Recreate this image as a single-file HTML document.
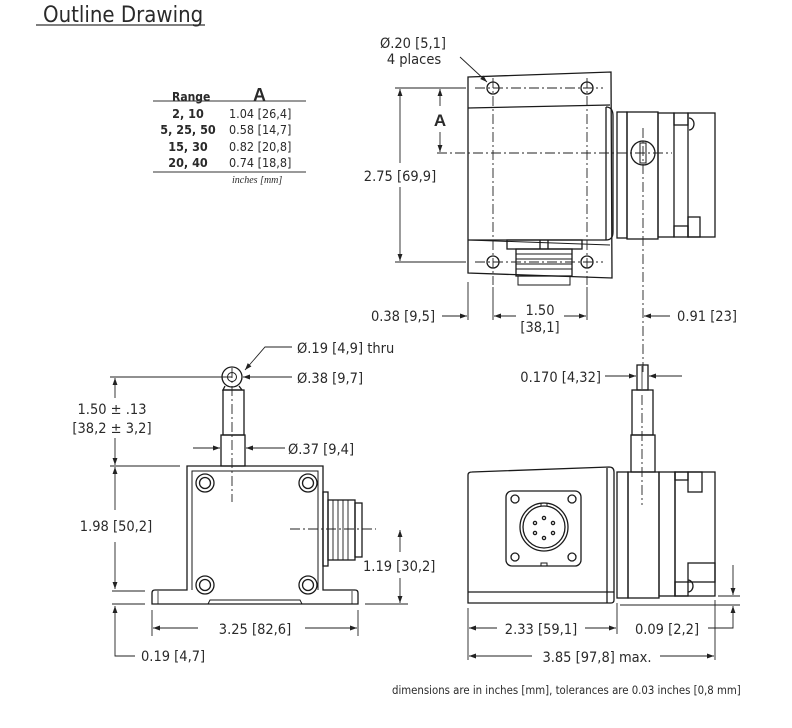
<!DOCTYPE html>
<html><head><meta charset="utf-8"><style>
html,body{margin:0;padding:0;background:#fff;}
svg{display:block;}
text{font-family:"DejaVu Sans Condensed","Liberation Sans Narrow","Liberation Sans",sans-serif;fill:#2a2a2a;font-size:14.5px;}
.b{font-weight:bold;}
</style></head><body>
<svg width="792" height="728" viewBox="0 0 792 728" xmlns="http://www.w3.org/2000/svg">
<defs>
<marker id="a" viewBox="0 0 10 10" refX="10" refY="5" markerWidth="9" markerHeight="7" orient="auto-start-reverse" markerUnits="userSpaceOnUse"><path d="M0,1.5 L10,5 L0,8.5 z" fill="#222"/></marker>
</defs>
<!-- title -->
<text x="43" y="22" style="font-size:22px">Outline Drawing</text>
<line x1="36" y1="25" x2="205" y2="25" stroke="#333" stroke-width="1.2"/>
<!-- table -->
<g>
<text x="172" y="101" class="b" style="font-size:12px">Range</text>
<text x="253" y="101" class="b" style="font-size:18px;font-family:'Liberation Sans',sans-serif">A</text>
<line x1="153" y1="101" x2="306" y2="101" stroke="#333" stroke-width="1"/>
<text x="188" y="118" class="b" text-anchor="middle" style="font-size:12.5px">2, 10</text>
<text x="188" y="134" class="b" text-anchor="middle" style="font-size:12.5px">5, 25, 50</text>
<text x="188" y="151" class="b" text-anchor="middle" style="font-size:12.5px">15, 30</text>
<text x="188" y="167" class="b" text-anchor="middle" style="font-size:12.5px">20, 40</text>
<text x="229" y="118" style="font-size:12.5px">1.04 [26,4]</text>
<text x="229" y="134" style="font-size:12.5px">0.58 [14,7]</text>
<text x="229" y="151" style="font-size:12.5px">0.82 [20,8]</text>
<text x="229" y="167" style="font-size:12.5px">0.74 [18,8]</text>
<line x1="153" y1="172" x2="306" y2="172" stroke="#333" stroke-width="1"/>
<text x="232" y="183" style="font-size:10px;font-style:italic;font-family:'Liberation Serif',serif">inches [mm]</text>
</g>

<g fill="none" stroke="#1a1a1a" stroke-width="1.3">
<!-- ===== TOP VIEW ===== -->
<path d="M468,77 L611,72 L612,278 L468,273 Z" fill="#fff"/>
<path d="M468,108 L610,105"/>
<path d="M468,240 L610,245" stroke-width="1"/>
<path d="M468,240 L606,240 Q613,240 613,232 L613,116 Q613,107 606,107" />
<line x1="606" y1="107" x2="606" y2="240"/>
<rect x="617" y="112" width="10" height="126"/>
<rect x="627" y="112" width="31" height="127"/>
<rect x="658" y="113" width="16" height="124"/>
<rect x="674" y="113" width="14" height="12"/>
<rect x="674" y="226" width="14" height="11"/>
<rect x="688" y="113" width="27" height="124"/>
<rect x="688" y="217" width="12" height="20"/>
<path d="M689,118 a5,6 0 0 1 0,12"/>
<circle cx="643" cy="153" r="12"/>
<rect x="640" y="143" width="6" height="20" stroke-width="1"/>
<circle cx="493" cy="88" r="6"/><circle cx="587" cy="88" r="6"/>
<circle cx="493" cy="262" r="6"/><circle cx="587" cy="262" r="6"/>
<rect x="507" y="240" width="75" height="9"/>
<line x1="540" y1="240" x2="540" y2="249"/><line x1="548" y1="240" x2="548" y2="249"/>
<rect x="516" y="249" width="56" height="27"/>
<path d="M516,254 H572 M516,259 H572 M516,264 H572 M516,269 H572 M518,276 V285 H570 V276" stroke-width="1"/>
</g>
<g stroke="#222" stroke-width="0.9" stroke-dasharray="10,3,2,3" fill="none">
<line x1="475" y1="88" x2="603" y2="88"/>
<line x1="475" y1="262" x2="603" y2="262"/>
<line x1="437" y1="153" x2="672" y2="153"/>
<line x1="493" y1="78" x2="493" y2="285"/>
<line x1="587" y1="78" x2="587" y2="285"/>
<line x1="643" y1="128" x2="643" y2="372"/>
</g>
<g stroke="#222" stroke-width="0.9" fill="none">
<line x1="395" y1="88" x2="466" y2="88"/>
<line x1="395" y1="262" x2="466" y2="262"/>
<line x1="400" y1="89" x2="400" y2="163" marker-start="url(#a)"/>
<line x1="400" y1="187" x2="400" y2="261" marker-end="url(#a)"/>
<line x1="440" y1="89" x2="440" y2="106" marker-start="url(#a)"/>
<line x1="440" y1="132" x2="440" y2="152" marker-end="url(#a)"/>
<line x1="468" y1="282" x2="468" y2="320"/>
<line x1="493" y1="287" x2="493" y2="320"/>
<line x1="587" y1="287" x2="587" y2="320"/>
<line x1="442" y1="316" x2="467" y2="316" marker-end="url(#a)"/>
<line x1="494" y1="316" x2="516" y2="316" marker-start="url(#a)"/>
<line x1="564" y1="316" x2="586" y2="316" marker-end="url(#a)"/>
<line x1="670" y1="316" x2="644" y2="316" marker-end="url(#a)"/>
<line x1="460" y1="57" x2="487" y2="82" marker-end="url(#a)"/>
</g>
<text x="413" y="48" text-anchor="middle">Ø.20 [5,1]</text>
<text x="414" y="64" text-anchor="middle">4 places</text>
<text x="400" y="181" text-anchor="middle">2.75 [69,9]</text>
<text x="440" y="126" text-anchor="middle" class="b" style="font-size:17px;font-family:'Liberation Sans',sans-serif">A</text>
<text x="403" y="321" text-anchor="middle">0.38 [9,5]</text>
<text x="540" y="315" text-anchor="middle">1.50</text>
<text x="540" y="332" text-anchor="middle">[38,1]</text>
<text x="707" y="321" text-anchor="middle">0.91 [23]</text>

<!-- ===== FRONT VIEW ===== -->
<g fill="none" stroke="#1a1a1a" stroke-width="1.3">
<circle cx="232" cy="377" r="10"/>
<circle cx="232" cy="377" r="4.5" stroke-width="1"/>
<path d="M225,386 L223,390 H242 L239,386"/>
<rect x="223" y="390" width="21" height="45"/>
<rect x="221" y="435" width="24" height="31"/>
<path d="M152,604 L152,593 Q152,590 155,590 L187,590 L187,466 L323,466 L323,590 L355,590 Q358,590 358,593 L358,604 Z"/>
<path d="M192,590 L192,471 L318,471 L318,590" stroke-width="1"/>
<path d="M208,604 L210,600 H300 L302,604" stroke-width="1"/>
<line x1="158" y1="591" x2="158" y2="604" stroke-width="0.8"/>
<line x1="352" y1="591" x2="352" y2="604" stroke-width="0.8"/>
<circle cx="205" cy="483" r="9"/><circle cx="205" cy="483" r="5.5"/>
<circle cx="308" cy="483" r="9"/><circle cx="308" cy="483" r="5.5"/>
<circle cx="205" cy="585" r="9"/><circle cx="205" cy="585" r="5.5"/>
<circle cx="308" cy="585" r="9"/><circle cx="308" cy="585" r="5.5"/>
<rect x="323" y="492" width="5" height="74"/>
<rect x="328" y="500" width="27" height="60"/>
<path d="M333,500 V560 M338,500 V560 M343,500 V560 M348,500 V560" stroke-width="0.9"/>
<rect x="355" y="503" width="7" height="54"/>
</g>
<g stroke="#222" stroke-width="0.9" stroke-dasharray="10,3,2,3" fill="none">
<line x1="232" y1="368" x2="232" y2="502"/>
<line x1="290" y1="529" x2="376" y2="529"/>
</g>
<g stroke="#222" stroke-width="0.9" fill="none">
<line x1="110" y1="377" x2="232" y2="377"/>
<line x1="110" y1="466" x2="180" y2="466"/>
<line x1="112" y1="591" x2="145" y2="591"/>
<line x1="112" y1="604" x2="145" y2="604"/>
<line x1="115" y1="378" x2="115" y2="398" marker-start="url(#a)"/>
<line x1="115" y1="438" x2="115" y2="465" marker-end="url(#a)"/>
<line x1="115" y1="467" x2="115" y2="510" marker-start="url(#a)"/>
<line x1="115" y1="542" x2="115" y2="589" marker-end="url(#a)"/>
<path d="M135,656 H115 V606" marker-end="url(#a)"/>
<line x1="193" y1="448" x2="220" y2="448" marker-end="url(#a)"/>
<line x1="285" y1="448" x2="246" y2="448" marker-end="url(#a)"/>
<line x1="292" y1="377" x2="243" y2="377" marker-end="url(#a)"/>
<path d="M292,347 H265 L245,370" marker-end="url(#a)"/>
<line x1="365" y1="604" x2="408" y2="604"/>
<line x1="400" y1="530" x2="400" y2="552" marker-start="url(#a)"/>
<line x1="400" y1="578" x2="400" y2="603" marker-end="url(#a)"/>
<line x1="152" y1="610" x2="152" y2="636"/>
<line x1="358" y1="610" x2="358" y2="636"/>
<line x1="153" y1="628" x2="198" y2="628" marker-start="url(#a)"/>
<line x1="305" y1="628" x2="357" y2="628" marker-end="url(#a)"/>
</g>
<text x="112" y="414" text-anchor="middle">1.50 ± .13</text>
<text x="112" y="433" text-anchor="middle">[38,2 ± 3,2]</text>
<text x="116" y="531" text-anchor="middle">1.98 [50,2]</text>
<text x="141" y="661">0.19 [4,7]</text>
<text x="297" y="353">Ø.19 [4,9] thru</text>
<text x="297" y="383">Ø.38 [9,7]</text>
<text x="288" y="454">Ø.37 [9,4]</text>
<text x="363" y="571">1.19 [30,2]</text>
<text x="255" y="634" text-anchor="middle">3.25 [82,6]</text>

<!-- ===== SIDE VIEW ===== -->
<g fill="none" stroke="#1a1a1a" stroke-width="1.3">
<rect x="637" y="365" width="11" height="25"/>
<line x1="642" y1="366" x2="642" y2="389" stroke-width="0.8"/>
<rect x="632" y="390" width="21" height="45"/>
<rect x="631" y="435" width="24" height="37"/>
<path d="M468,603 L468,475 Q468,472 472,472 L609,467 Q614,467 614,472 L614,600 Q614,603 611,603 Z"/>
<line x1="468" y1="592" x2="614" y2="592"/>
<line x1="607" y1="468" x2="607" y2="603"/>
<rect x="617" y="472" width="11" height="126"/>
<rect x="628" y="472" width="31" height="126"/>
<rect x="659" y="472" width="16" height="124"/>
<rect x="675" y="472" width="40" height="124"/>
<rect x="688" y="472" width="14" height="20"/>
<rect x="675" y="472" width="13" height="8"/>
<rect x="688" y="563" width="27" height="19"/>
<rect x="675" y="582" width="13" height="14"/>
<path d="M688,580 a5,6 0 0 1 0,12"/>
<rect x="506" y="491" width="75" height="75" rx="6"/>
<circle cx="515" cy="499" r="4"/><circle cx="572" cy="499" r="4"/>
<circle cx="515" cy="557" r="4"/><circle cx="572" cy="557" r="4"/>
<circle cx="544" cy="527" r="24"/>
<circle cx="544" cy="527" r="21"/>
<circle cx="544" cy="518" r="1.6"/><circle cx="535" cy="523" r="1.6"/><circle cx="553" cy="523" r="1.6"/>
<circle cx="535" cy="533" r="1.6"/><circle cx="553" cy="533" r="1.6"/><circle cx="544" cy="538" r="1.6"/>
<path d="M541,503 V506 H547 V503" stroke-width="1"/>
<path d="M541,566 V563 H547 V566" stroke-width="1"/>
</g>
<g stroke="#222" stroke-width="0.9" stroke-dasharray="10,3,2,3" fill="none">
<line x1="642" y1="395" x2="642" y2="505"/>
</g>
<g stroke="#222" stroke-width="0.9" fill="none">
<line x1="605" y1="376" x2="636" y2="376" marker-end="url(#a)"/>
<line x1="682" y1="376" x2="649" y2="376" marker-end="url(#a)"/>
<line x1="468" y1="608" x2="468" y2="660"/>
<line x1="617" y1="603" x2="617" y2="634"/>
<line x1="715" y1="600" x2="715" y2="660"/>
<line x1="620" y1="605" x2="740" y2="605"/>
<line x1="718" y1="596" x2="740" y2="596"/>
<line x1="469" y1="628" x2="497" y2="628" marker-start="url(#a)"/>
<line x1="585" y1="628" x2="616" y2="628" marker-end="url(#a)"/>
<line x1="469" y1="656" x2="532" y2="656" marker-start="url(#a)"/>
<line x1="660" y1="656" x2="714" y2="656" marker-end="url(#a)"/>
<line x1="733" y1="565" x2="733" y2="595" marker-end="url(#a)"/>
<path d="M708,628 H733 V606" marker-end="url(#a)"/>
</g>
<text x="601" y="382" text-anchor="end">0.170 [4,32]</text>
<text x="541" y="634" text-anchor="middle">2.33 [59,1]</text>
<text x="667" y="634" text-anchor="middle">0.09 [2,2]</text>
<text x="597" y="662" text-anchor="middle">3.85 [97,8] max.</text>

<text x="392" y="694" style="font-size:11.3px">dimensions are in inches [mm], tolerances are  0.03 inches [0,8 mm]</text>
</svg>
</body></html>
